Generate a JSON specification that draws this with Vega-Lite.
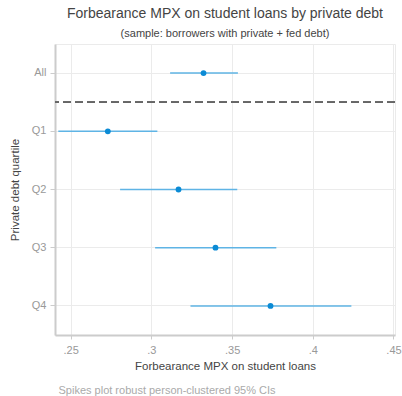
{
  "$schema": "https://vega.github.io/schema/vega-lite/v6.json",
  "width": 340,
  "height": 291,
  "autosize": "none",
  "padding": {"left": 55, "top": 44, "right": 7, "bottom": 61},
  "background": "white",
  "config": {
    "font": "Liberation Sans",
    "view": {"stroke": "#ebebeb", "strokeWidth": 1}
  },
  "title": {
    "text": "Forbearance MPX on student loans by private debt",
    "subtitle": "(sample: borrowers with private + fed debt)",
    "fontSize": 14,
    "fontWeight": "normal",
    "color": "#444444",
    "subtitleFontSize": 11,
    "subtitleColor": "#444444",
    "anchor": "middle",
    "offset": 5,
    "subtitlePadding": 7
  },
  "data": {
    "values": [
      {"group": "All", "est": 0.3323, "lo": 0.3116, "hi": 0.3536},
      {"group": "Q1", "est": 0.2730, "lo": 0.2423, "hi": 0.3037},
      {"group": "Q2", "est": 0.3168, "lo": 0.2806, "hi": 0.3532},
      {"group": "Q3", "est": 0.3397, "lo": 0.3023, "hi": 0.3774},
      {"group": "Q4", "est": 0.3738, "lo": 0.3242, "hi": 0.4239}
    ]
  },
  "encoding": {
    "y": {
      "field": "group",
      "type": "nominal",
      "sort": ["All", "Q1", "Q2", "Q3", "Q4"],
      "scale": {"type": "band", "paddingInner": 0, "paddingOuter": 0},
      "axis": {
        "title": "Private debt quartile",
        "titleFontSize": 11.5,
        "titleFontWeight": "normal",
        "titleColor": "#444444",
        "titlePadding": 11,
        "labelFontSize": 11,
        "labelColor": "#999999",
        "labelPadding": 4,
        "tickSize": 5,
        "tickColor": "#cccccc",
        "domainColor": "#cccccc",
        "domainWidth": 2,
        "grid": true,
        "gridColor": "#ebebeb"
      }
    }
  },
  "layer": [
    {
      "mark": {"type": "rule", "color": "#5fb4e5", "strokeWidth": 1.5},
      "encoding": {
        "x": {
          "field": "lo",
          "type": "quantitative",
          "scale": {"domain": [0.24027, 0.45093], "nice": false, "zero": false},
          "axis": {
            "title": "Forbearance MPX on student loans",
            "values": [0.25, 0.3, 0.35, 0.4, 0.45],
            "labelExpr": "replace(format(datum.value, '.2~f'), '0.', '.')",
            "labelFontSize": 11,
            "labelColor": "#999999",
            "labelFlush": false,
            "labelPadding": 5,
            "tickSize": 4,
            "tickColor": "#cccccc",
            "domainColor": "#cccccc",
            "domainWidth": 2,
            "grid": true,
            "gridColor": "#ebebeb",
            "titleFontSize": 11.5,
            "titleFontWeight": "normal",
            "titleColor": "#444444",
            "titlePadding": 5
          }
        },
        "x2": {"field": "hi"}
      }
    },
    {
      "mark": {"type": "point", "filled": true, "color": "#0b8bd5", "size": 34, "opacity": 1},
      "encoding": {
        "x": {
          "field": "est",
          "type": "quantitative",
          "scale": {"domain": [0.24027, 0.45093], "nice": false, "zero": false},
          "axis": {
            "orient": "bottom",
            "title": "Spikes plot robust person-clustered 95% CIs",
            "domain": false,
            "ticks": false,
            "labels": false,
            "grid": false,
            "titleAlign": "left",
            "titleBaseline": "middle",
            "titleX": 3,
            "titleY": 55,
            "titleColor": "#aaaaaa",
            "titleFontSize": 11,
            "titleFontWeight": "normal"
          }
        }
      }
    },
    {
      "mark": {"type": "rule", "color": "#666666", "strokeWidth": 1.6, "strokeDash": [8, 4]},
      "encoding": {
        "y": {"datum": "All", "type": "nominal", "bandPosition": 1}
      }
    }
  ],
  "resolve": {"scale": {"x": "independent"}}
}
